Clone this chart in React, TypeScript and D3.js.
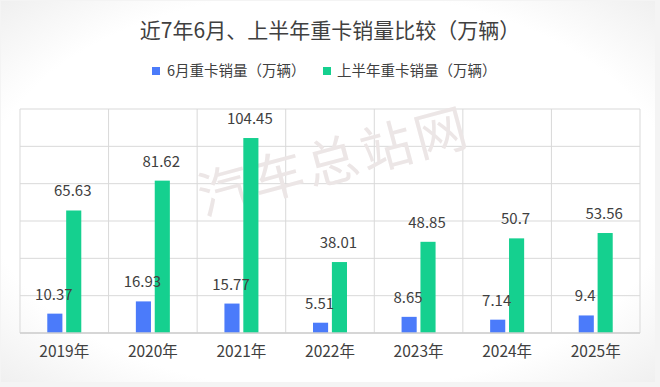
import React from 'react';
import * as d3 from 'd3';

// chart data
const years = ['2019年', '2020年', '2021年', '2022年', '2023年', '2024年', '2025年'];
const juneSales = [10.37, 16.93, 15.77, 5.51, 8.65, 7.14, 9.4];
const halfYearSales = [65.63, 81.62, 104.45, 38.01, 48.85, 50.7, 53.56];
const seriesNames = ['6月重卡销量（万辆）', '上半年重卡销量（万辆）'];
const yTicks = [0, 20, 40, 60, 80, 100, 120];

const width = 660;
const height = 387;
const margin = { top: 109, right: 20, bottom: 54, left: 20 };
const colors = ['#4b7bfa', '#15d08f'];
const font = '"Microsoft YaHei", "Noto Sans CJK SC", sans-serif';

const App: React.FC = () => {
    const x = d3
        .scaleBand<string>()
        .domain(years)
        .range([margin.left, width - margin.right]);

    const y = d3
        .scaleLinear()
        .domain([0, 120])
        .range([height - margin.bottom, margin.top]);

    // inner band for the two series
    const inner = d3
        .scaleBand<number>()
        .domain([0, 1])
        .range([0, 34])
        .paddingInner(0.2);

    const series = [juneSales, halfYearSales];
    const groupOffset = (x.bandwidth() - 34) / 2;
    const barX = (s: number, i: number) =>
        (x(years[i]) as number) + groupOffset + (inner(s) as number);

    return (
        <svg
            width={width}
            height={height}
            style={{ position: 'absolute', left: 0, top: 0, fontFamily: font }}
        >
            <defs>
                <radialGradient id="bg" cx="50%" cy="50%" r="75%">
                    <stop offset="70%" stopColor="#ffffff" />
                    <stop offset="100%" stopColor="#ececec" />
                </radialGradient>
            </defs>
            <rect x={0} y={0} width={width} height={height} fill="#f4f4f4" />
            <rect x={1} y={1} width={width - 6} height={height - 6} fill="url(#bg)" />

            {/* title */}
            <text
                x={width / 2}
                y={38}
                textAnchor="middle"
                fontSize={21}
                fill="#404040"
            >
                近7年6月、上半年重卡销量比较（万辆）
            </text>

            {/* legend */}
            <g transform="translate(0,71)">
                <rect x={152} y={-4} width={8} height={8} fill={colors[0]} />
                <text x={167} y={5} fontSize={14.5} fill="#404040">
                    {seriesNames[0]}
                </text>
                <rect x={323} y={-4} width={8} height={8} fill={colors[1]} />
                <text x={337} y={5} fontSize={14.5} fill="#404040">
                    {seriesNames[1]}
                </text>
            </g>

            {/* horizontal gridlines */}
            {yTicks.map((t) => (
                <line
                    key={'h' + t}
                    x1={margin.left}
                    x2={width - margin.right}
                    y1={y(t)}
                    y2={y(t)}
                    stroke="#d9d9d9"
                    strokeWidth={1}
                />
            ))}
            {/* vertical gridlines at category edges */}
            {[...years.map((d) => x(d) as number), width - margin.right].map((v, i) => (
                <line
                    key={'v' + i}
                    x1={v}
                    x2={v}
                    y1={margin.top}
                    y2={height - margin.bottom}
                    stroke="#d9d9d9"
                    strokeWidth={1}
                />
            ))}

            {/* watermark */}
            <text
                x={335}
                y={180}
                textAnchor="middle"
                fontSize={52}
                fill="#ece6e6"
                transform="rotate(-15,335,165)"
                letterSpacing={4}
            >
                汽车总站网
            </text>

            {/* bars */}
            {series.map((vals, s) =>
                vals.map((v, i) => (
                    <rect
                        key={`b${s}-${i}`}
                        x={barX(s, i)}
                        y={y(v)}
                        width={inner.bandwidth()}
                        height={y(0) - y(v)}
                        fill={colors[s]}
                    />
                ))
            )}

            {/* value labels drawn on top of all bars */}
            {series.map((vals, s) =>
                vals.map((v, i) => (
                    <text
                        key={`l${s}-${i}`}
                        x={barX(s, i) + inner.bandwidth() / 2 - 1}
                        y={y(v) - 14}
                        textAnchor="middle"
                        fontSize={15}
                        fill="#404040"
                    >
                        {v}
                    </text>
                ))
            )}

            {/* x axis */}
            <line
                x1={margin.left}
                x2={width - margin.right}
                y1={y(0)}
                y2={y(0)}
                stroke="#cfcfcf"
                strokeWidth={1.5}
            />
            {years.map((d) => (
                <text
                    key={d}
                    x={(x(d) as number) + x.bandwidth() / 2}
                    y={357}
                    textAnchor="middle"
                    fontSize={15.5}
                    fill="#404040"
                >
                    {d}
                </text>
            ))}
        </svg>
    );
};

export default App;
